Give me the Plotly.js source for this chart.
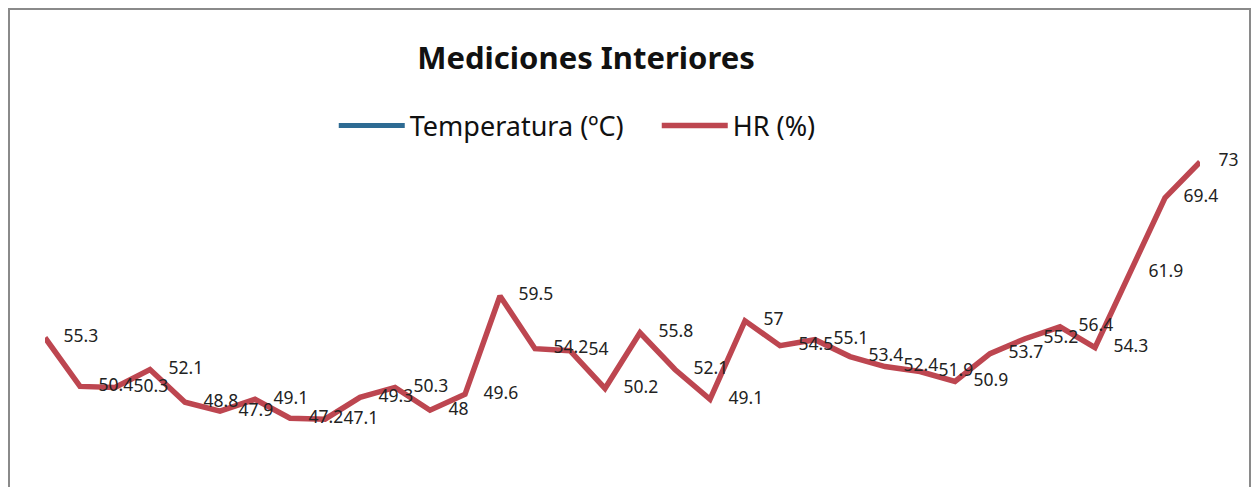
<!DOCTYPE html>
<html>
<head>
<meta charset="utf-8">
<script src="https://cdn.plot.ly/plotly-3.0.1.min.js"></script>
<style>
  html, body { margin: 0; padding: 0; background: #ffffff; }
  #wrap { position: relative; width: 1256px; height: 487px; overflow: hidden; }
  #frame { position: absolute; left: 8px; top: 8px; width: 1243px; height: 500px; border: 2px solid #8a8a8a; box-sizing: border-box; pointer-events: none; }
  #chart { position: absolute; left: 0; top: 0; width: 1256px; height: 487px; }
</style>
</head>
<body>
<div id="wrap">
  <div id="chart"></div>
  <div id="frame"></div>
</div>
<script>
// Data
const points = Array.from({length: 34}, (_, i) => i + 1);
const hrValues = [55.3, 50.4, 50.3, 52.1, 48.8, 47.9, 49.1, 47.2, 47.1, 49.3,
                  50.3, 48, 49.6, 59.5, 54.2, 54, 50.2, 55.8, 52.1, 49.1,
                  57, 54.5, 55.1, 53.4, 52.4, 51.9, 50.9, 53.7, 55.2, 56.4,
                  54.3, 61.9, 69.4, 73];
// Temperature series appears only in the legend (no visible values in the picture)
const tempValues = [null];
const seriesNames = ['Temperatura (ºC)', 'HR (%)'];
const chartTitle = 'Mediciones Interiores';

const hrLabels = hrValues.map(v => String(v));

const traces = [
  {
    x: points.slice(0, tempValues.length), y: tempValues,
    type: 'scatter', mode: 'lines', name: seriesNames[0],
    line: { color: '#2e6b93', width: 5 }
  },
  {
    x: points, y: hrValues,
    type: 'scatter', mode: 'lines', name: seriesNames[1],
    line: { color: '#bd4650', width: 5.5 },
    hoverinfo: 'skip'
  },
  {
    x: points, y: hrValues,
    type: 'scatter', mode: 'markers+text', showlegend: false,
    text: hrLabels, textposition: 'middle right',
    marker: { size: 28, opacity: 0 },
    textfont: { family: 'Noto Sans, sans-serif', size: 17.5, color: '#222222' },
    cliponaxis: false, hoverinfo: 'skip'
  }
];

const layout = {
  width: 1256, height: 487,
  margin: { l: 45, r: 56, t: 130, b: 17 },
  paper_bgcolor: 'rgba(0,0,0,0)',
  plot_bgcolor: 'rgba(0,0,0,0)',
  title: {
    text: '<b>' + chartTitle + '</b>',
    font: { family: 'Noto Sans, sans-serif', size: 31, color: '#111111' },
    x: 586 / 1256, xref: 'container', xanchor: 'center',
    y: 1 - 58 / 487, yref: 'container', yanchor: 'middle'
  },
  showlegend: true,
  legend: {
    orientation: 'h',
    x: 0.25, xanchor: 'left',
    y: 1.012, yanchor: 'middle',
    font: { family: 'Noto Sans, sans-serif', size: 27, color: '#111111' },
    itemwidth: 66,
    entrywidth: 242,
    bgcolor: 'rgba(0,0,0,0)'
  },
  xaxis: {
    range: [1, 34],
    visible: false, showgrid: false, zeroline: false
  },
  yaxis: {
    range: [41.98, 76.22],
    visible: false, showgrid: false, zeroline: false
  }
};

Plotly.newPlot('chart', traces, layout, { displayModeBar: false, staticPlot: true });
</script>
</body>
</html>
